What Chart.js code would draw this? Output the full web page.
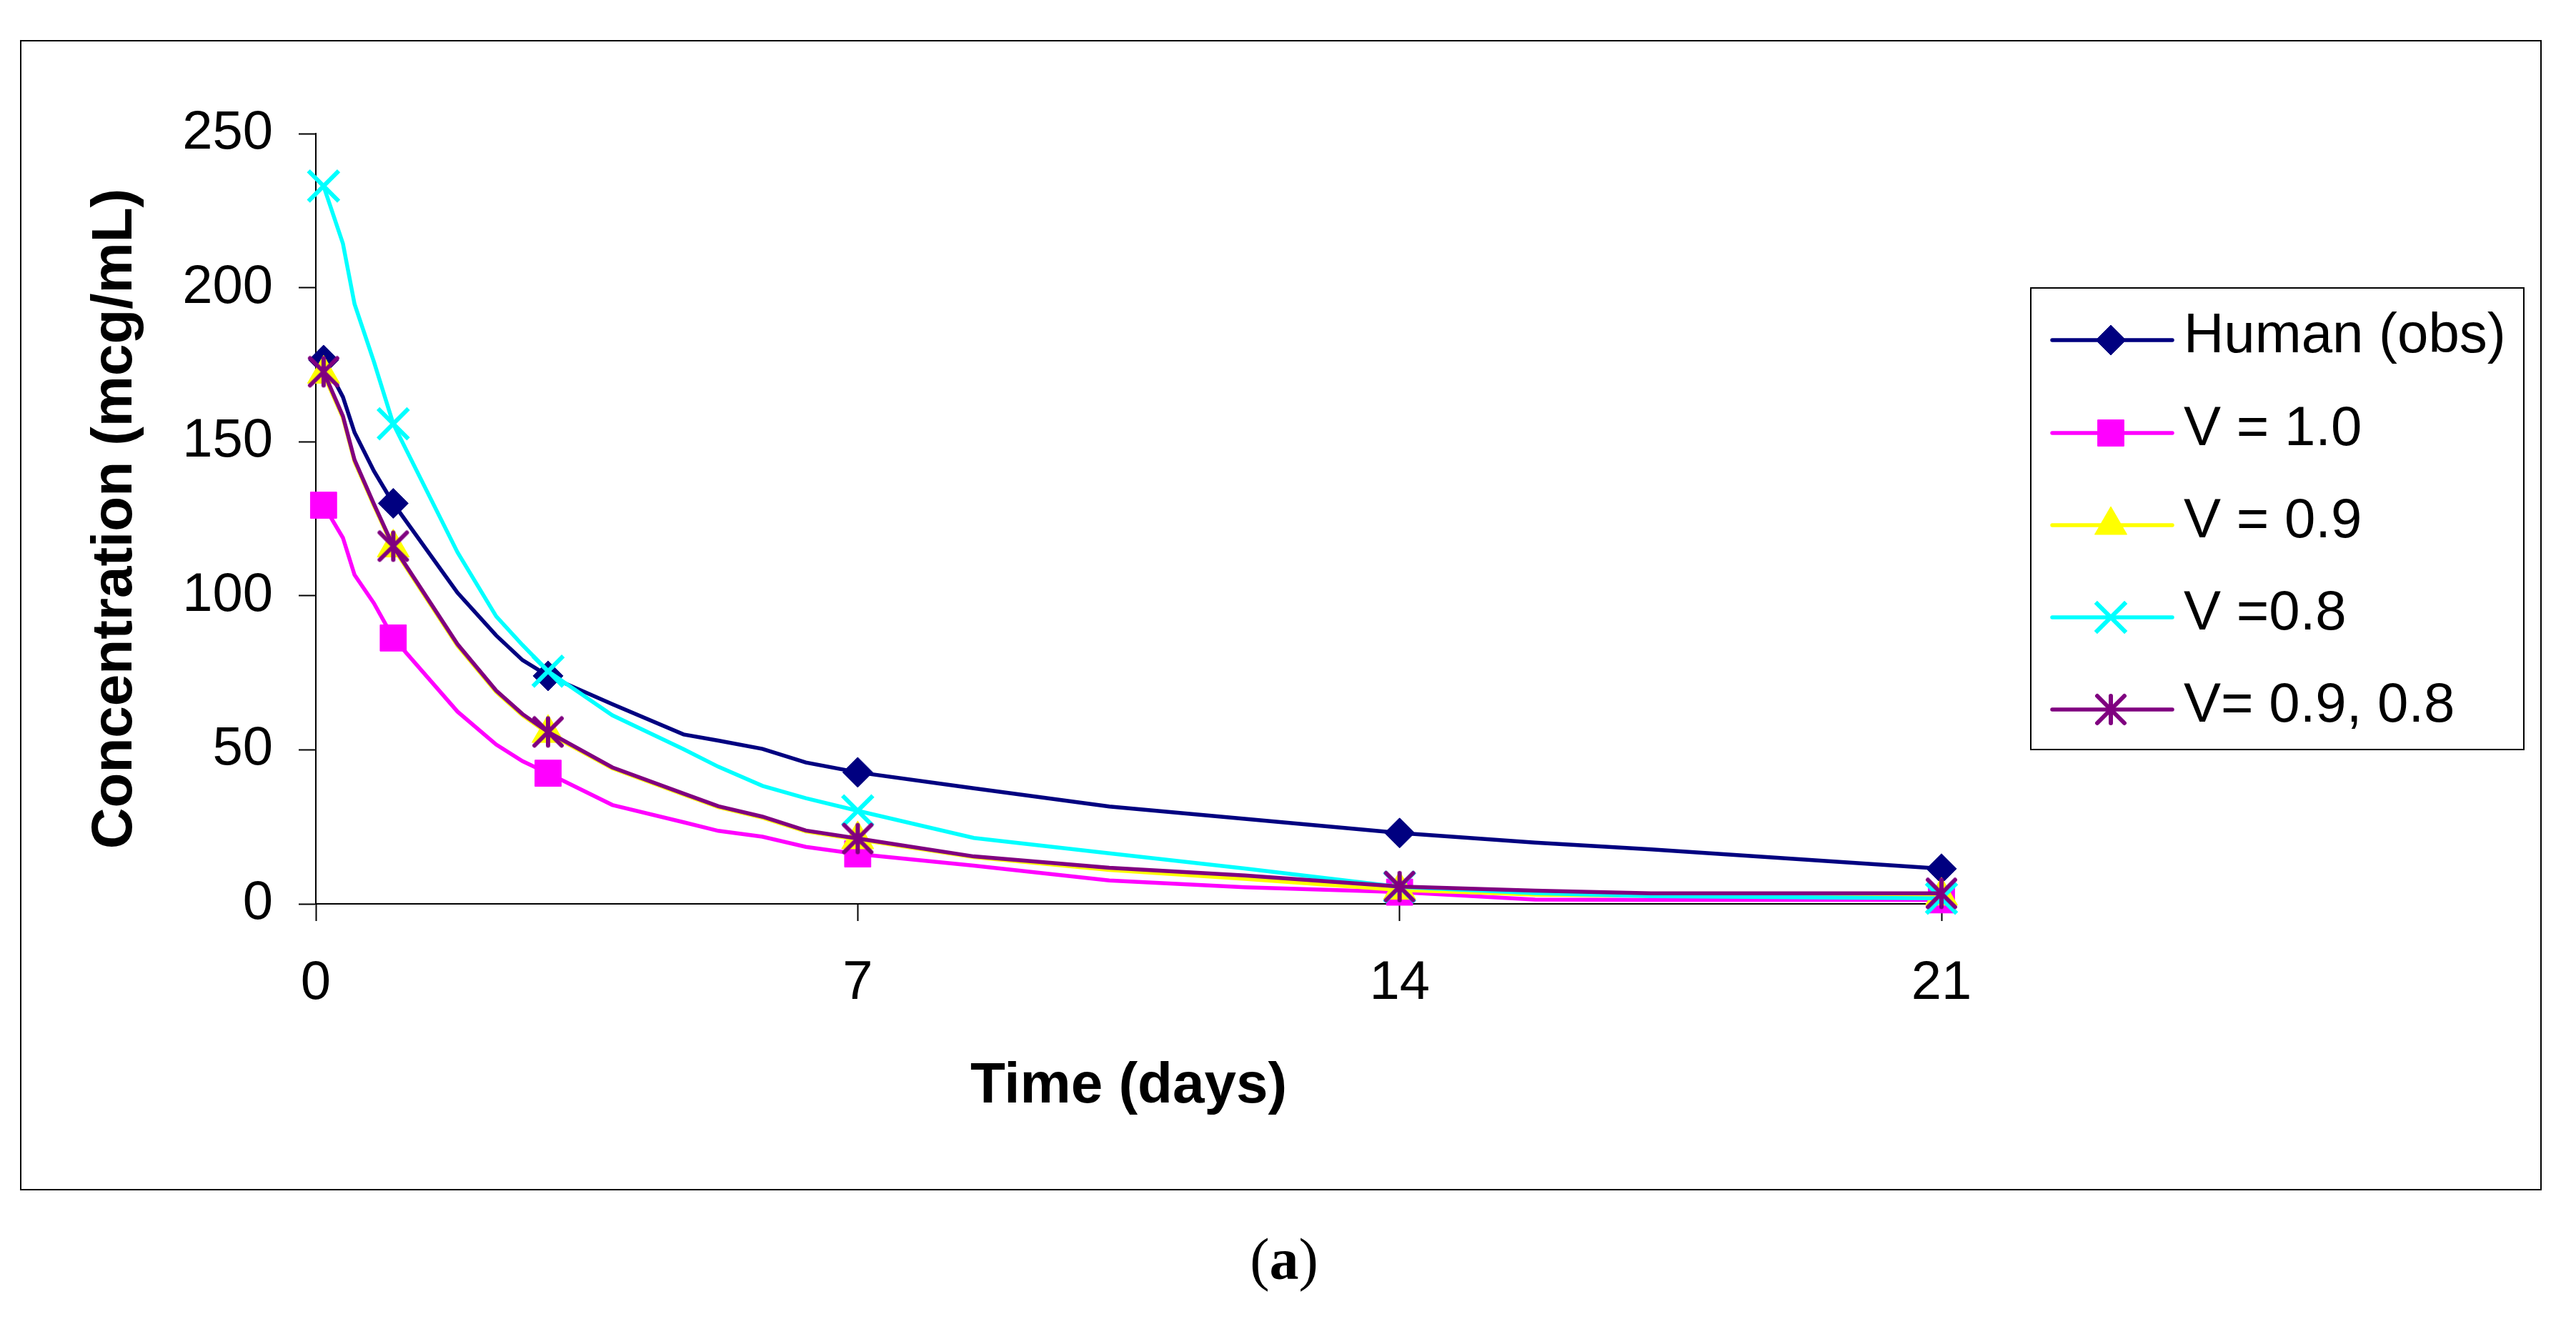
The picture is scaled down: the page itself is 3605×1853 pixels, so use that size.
<!DOCTYPE html>
<html>
<head>
<meta charset="utf-8">
<script src="https://cdn.jsdelivr.net/npm/chart.js@4.4.1/dist/chart.umd.min.js"></script>
<style>
html,body{margin:0;padding:0;background:#fff;overflow:hidden}
canvas{display:block}
</style>
</head>
<body>
<canvas id="c" width="3605" height="1853" style="width:3605px;height:1853px"></canvas>
<script>
// ---- data ----
const times = [0.1, 0.35, 0.5, 0.75, 1, 1.83, 2.33, 2.67, 3, 3.83, 4.75, 5.2, 5.77, 6.33, 7, 8.5, 10.25, 12, 14, 15.75, 17.25, 21];
const markerTimes = [0.1, 1, 3, 7, 14, 21];
const humanObs = [176.5, 164.5, 153, 140.5, 130, 101, 87.1, 79.1, 74, 64.8, 55, 53, 50.3, 45.9, 42.7, 37.5, 31.6, 27.6, 23, 19.9, 17.7, 11.4];
const v10 = [129.4, 118.8, 106.8, 97.6, 86.3, 62.4, 51.7, 46.3, 42.4, 32.1, 26.5, 23.7, 21.8, 18.5, 16.2, 12.4, 7.6, 5.4, 3.8, 1.4, 1.3, 1.3];
const v09 = [172, 157.8, 143.6, 129.3, 115.6, 83.8, 68.8, 61.2, 55.4, 44, 35.5, 31.4, 28, 23.5, 20.9, 15.2, 11, 8.1, 4.5, 3, 2.6, 2.6];
const v08 = [233, 214.3, 194.7, 176, 155.8, 114.1, 93.3, 84, 75.5, 61.2, 50.2, 44.5, 38.3, 34.3, 30.2, 21.4, 16.4, 11.5, 5.5, 3.5, 2.5, 1.8];
const v0908 = [172.7, 158.3, 144.1, 129.8, 116.1, 84.3, 69.2, 61.6, 55.8, 44.3, 35.8, 31.7, 28.3, 23.8, 21.2, 15.4, 11.7, 9.2, 5.6, 4.3, 3.4, 3.4];
const seriesLabels = ['Human (obs)', 'V = 1.0', 'V = 0.9', 'V =0.8', 'V= 0.9, 0.8'];
const xTicks = [0, 7, 14, 21];
const yTicks = [0, 50, 100, 150, 200, 250];
const xTitle = 'Time (days)';
const yTitle = 'Concentration (mcg/mL)';
const caption = ['(', 'a', ')'];

// ---- styles ----
function makeAsterisk(color, size, lw) {
  const c = document.createElement('canvas');
  c.width = size; c.height = size;
  const g = c.getContext('2d');
  g.strokeStyle = color; g.lineWidth = lw; g.lineCap = 'round';
  const a = lw / 2 + 1, b = size - lw / 2 - 1, m = size / 2;
  g.beginPath();
  g.moveTo(m, a); g.lineTo(m, b);
  g.moveTo(a, a); g.lineTo(b, b);
  g.moveTo(b, a); g.lineTo(a, b);
  g.stroke();
  return c;
}
const styles = [
  {color: '#000080', pointStyle: 'rectRot', radius: 21, bw: 1},
  {color: '#FF00FF', pointStyle: 'rect', radius: 26, bw: 1},
  {color: '#FFFF00', pointStyle: 'triangle', radius: 26, bw: 1},
  {color: '#00FFFF', pointStyle: 'crossRot', radius: 30, bw: 6},
  {color: '#800080', pointStyle: makeAsterisk('#800080', 46, 6), radius: 23, bw: 1}
];
const seriesValues = [humanObs, v10, v09, v08, v0908];

function isMarker(i) { return markerTimes.indexOf(times[i]) >= 0; }

const datasets = seriesValues.map((vals, k) => ({
  label: seriesLabels[k],
  data: times.map((t, i) => ({x: t, y: vals[i]})),
  borderColor: styles[k].color,
  backgroundColor: styles[k].color,
  borderWidth: 5.5,
  tension: 0,
  pointStyle: styles[k].pointStyle,
  pointRadius: ctx => isMarker(ctx.dataIndex) ? styles[k].radius : 0,
  pointHoverRadius: ctx => isMarker(ctx.dataIndex) ? styles[k].radius : 0,
  pointBorderWidth: styles[k].bw,
  pointBorderColor: styles[k].color,
  pointBackgroundColor: styles[k].color,
  order: 4 - k,
  clip: false
}));

const framePlugin = {
  id: 'frame',
  beforeDraw(chart) {
    const ctx = chart.ctx;
    ctx.save();
    ctx.fillStyle = '#fff';
    ctx.fillRect(0, 0, chart.width, chart.height);
    ctx.restore();
  },
  afterDraw(chart) {
    const ctx = chart.ctx;
    ctx.save();
    // outer border
    ctx.strokeStyle = '#000';
    ctx.lineWidth = 2;
    ctx.strokeRect(29, 57, 3527, 1608);
    // legend
    ctx.lineWidth = 2;
    ctx.strokeRect(2842, 403, 690, 646);
    const rowY = [476, 606, 735, 864, 993];
    for (let k = 0; k < seriesLabels.length; k++) {
      const y = rowY[k];
      const st = styles[k];
      ctx.save();
      ctx.strokeStyle = st.color;
      ctx.lineWidth = 5.5;
      ctx.lineCap = 'round';
      ctx.beginPath();
      ctx.moveTo(2872, y); ctx.lineTo(3040, y);
      ctx.stroke();
      ctx.restore();
      ctx.save();
      ctx.fillStyle = st.color;
      ctx.strokeStyle = st.color;
      ctx.lineWidth = st.bw;
      Chart.helpers.drawPoint(ctx, {pointStyle: st.pointStyle, radius: st.radius, rotation: 0, borderWidth: st.bw}, 2954, y);
      ctx.restore();
      ctx.fillStyle = '#000';
      ctx.font = '78px "Liberation Sans", Arial, sans-serif';
      ctx.textAlign = 'left';
      ctx.textBaseline = 'alphabetic';
      ctx.fillText(seriesLabels[k], 3056, y + 17);
    }
    // caption (a)
    ctx.fillStyle = '#000';
    ctx.textBaseline = 'alphabetic';
    const fReg = '82px "Liberation Serif", "Times New Roman", serif';
    const fBold = 'bold 82px "Liberation Serif", "Times New Roman", serif';
    const fonts = [fReg, fBold, fReg];
    let total = 0;
    const widths = caption.map((s, i) => { ctx.font = fonts[i]; const w = ctx.measureText(s).width; total += w; return w; });
    let cx = 1797 - total / 2;
    ctx.textAlign = 'left';
    caption.forEach((s, i) => { ctx.font = fonts[i]; ctx.fillText(s, cx, 1790); cx += widths[i]; });
    ctx.restore();
  }
};

Chart.defaults.color = '#000';
Chart.defaults.font.family = '"Liberation Sans", Arial, sans-serif';

new Chart(document.getElementById('c'), {
  type: 'line',
  data: {datasets},
  options: {
    responsive: false,
    animation: false,
    devicePixelRatio: 1,
    events: [],
    layout: {padding: {left: 0, top: 187, right: 888, bottom: 0}},
    plugins: {legend: {display: false}, tooltip: {enabled: false}},
    scales: {
      x: {
        type: 'linear',
        min: 0, max: 21,
        afterBuildTicks: s => { s.ticks = xTicks.map(v => ({value: v})); },
        afterFit: s => { s.height = 588; },
        grid: {drawOnChartArea: false, drawTicks: true, tickLength: 24, tickWidth: 2, tickColor: '#000', color: '#000'},
        border: {display: true, color: '#000', width: 2},
        ticks: {font: {size: 76}, padding: 42, color: '#000', maxRotation: 0, autoSkip: false},
        title: {display: true, text: xTitle, font: {size: 80, weight: 'bold'}, color: '#000', padding: {top: 0, bottom: 284}}
      },
      y: {
        type: 'linear',
        min: 0, max: 250,
        afterBuildTicks: s => { s.ticks = yTicks.map(v => ({value: v})); },
        afterFit: s => { s.width = 442; },
        grid: {drawOnChartArea: false, drawTicks: true, tickLength: 24, tickWidth: 2, tickColor: '#000', color: '#000'},
        border: {display: true, color: '#000', width: 2},
        ticks: {font: {size: 76}, padding: 36, color: '#000', autoSkip: false},
        title: {display: true, text: yTitle, font: {size: 80, weight: 'bold'}, color: '#000', padding: {top: 114, bottom: 0}}
      }
    }
  },
  plugins: [framePlugin]
});
</script>
</body>
</html>
